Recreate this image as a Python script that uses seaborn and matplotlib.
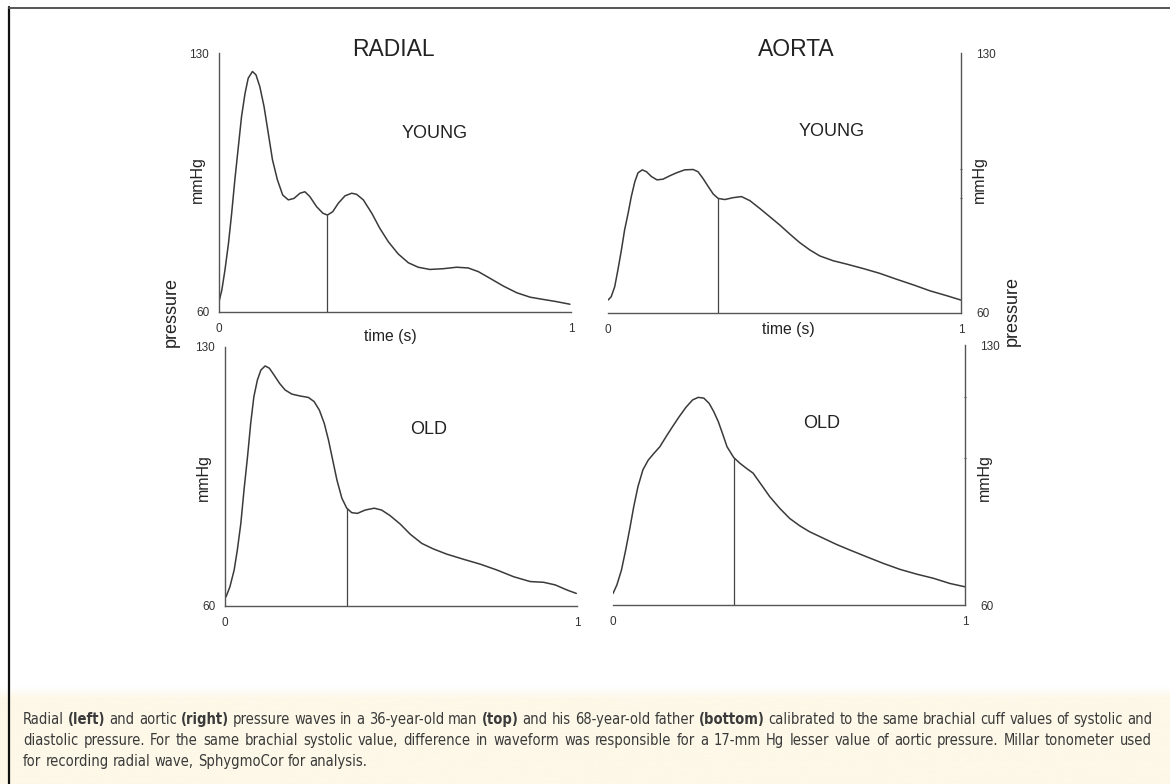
import matplotlib
matplotlib.use("Agg")
import matplotlib.pyplot as plt
import matplotlib.font_manager as fm
from matplotlib.lines import Line2D
import numpy as np
import pandas as pd
import seaborn as sns

# pressure waveforms (time in s, pressure in mmHg)
radial_young_t = [0.0, 0.008, 0.017, 0.027, 0.036, 0.045, 0.055, 0.064, 0.074, 0.083, 0.095, 0.105,
                  0.116, 0.128, 0.140, 0.152, 0.166, 0.181, 0.197, 0.213, 0.230, 0.244, 0.258, 0.277,
                  0.295, 0.308, 0.323, 0.339, 0.358, 0.377, 0.391, 0.410, 0.434, 0.457, 0.481, 0.509,
                  0.538, 0.566, 0.599, 0.637, 0.675, 0.708, 0.737, 0.770, 0.808, 0.846, 0.884, 0.921,
                  0.959, 0.997]
radial_young_p = [62.8, 65.9, 71.4, 78.6, 86.7, 95.7, 104.7, 112.8, 119.1, 123.2, 125.0, 124.1,
                  120.9, 115.5, 108.3, 101.1, 95.7, 91.6, 90.3, 90.7, 92.1, 92.5, 91.2, 88.5,
                  86.7, 86.2, 87.1, 89.4, 91.4, 92.1, 91.8, 90.3, 86.7, 82.6, 79.0, 75.7,
                  73.3, 72.1, 71.5, 71.7, 72.1, 71.9, 70.9, 69.1, 67.0, 65.2, 64.0, 63.4,
                  62.8, 62.1]

aorta_young_t = [0.0, 0.009, 0.019, 0.028, 0.038, 0.047, 0.057, 0.066, 0.076, 0.085, 0.097, 0.109,
                 0.123, 0.139, 0.156, 0.175, 0.194, 0.217, 0.241, 0.255, 0.269, 0.284, 0.298, 0.312,
                 0.331, 0.354, 0.378, 0.402, 0.430, 0.458, 0.487, 0.515, 0.543, 0.572, 0.600, 0.638,
                 0.676, 0.723, 0.770, 0.818, 0.865, 0.912, 0.959, 1.0]
aorta_young_p = [63.4, 64.3, 67.0, 71.5, 76.9, 82.3, 86.8, 91.3, 95.3, 97.7, 98.5, 98.0,
                 96.7, 95.8, 96.0, 96.9, 97.7, 98.5, 98.6, 98.0, 96.2, 94.0, 92.0, 90.8,
                 90.5, 91.0, 91.3, 90.2, 88.1, 85.9, 83.6, 81.2, 78.9, 76.9, 75.3, 74.0,
                 73.1, 71.9, 70.6, 69.0, 67.5, 65.9, 64.6, 63.4]

radial_old_t = [0.003, 0.014, 0.026, 0.035, 0.045, 0.054, 0.064, 0.073, 0.082, 0.092, 0.102, 0.114,
                0.126, 0.139, 0.155, 0.171, 0.190, 0.213, 0.237, 0.253, 0.268, 0.282, 0.294, 0.306,
                0.318, 0.332, 0.346, 0.360, 0.376, 0.398, 0.424, 0.445, 0.469, 0.498, 0.526, 0.559,
                0.592, 0.630, 0.678, 0.725, 0.773, 0.820, 0.867, 0.905, 0.938, 0.972, 0.998]
radial_old_p = [62.5, 65.2, 69.7, 75.1, 82.3, 91.3, 100.3, 109.3, 116.5, 121.0, 123.7, 124.8,
                124.2, 122.4, 120.1, 118.3, 117.2, 116.7, 116.3, 115.2, 112.9, 109.3, 104.8, 99.4,
                94.0, 89.1, 86.4, 85.2, 85.0, 85.9, 86.4, 85.9, 84.4, 82.1, 79.4, 76.9,
                75.4, 74.0, 72.6, 71.3, 69.7, 67.9, 66.6, 66.4, 65.7, 64.3, 63.4]

aorta_old_t = [0.0, 0.011, 0.024, 0.036, 0.047, 0.059, 0.071, 0.085, 0.100, 0.116, 0.133, 0.150,
               0.169, 0.188, 0.207, 0.226, 0.242, 0.258, 0.273, 0.286, 0.299, 0.311, 0.324, 0.343,
               0.360, 0.379, 0.398, 0.422, 0.445, 0.474, 0.502, 0.531, 0.559, 0.597, 0.635, 0.673,
               0.720, 0.768, 0.815, 0.863, 0.910, 0.957, 1.0]
aorta_old_p = [63.1, 65.4, 69.4, 74.8, 80.2, 86.5, 91.9, 96.4, 99.0, 100.8, 102.6, 105.2,
               108.0, 110.7, 113.2, 115.2, 115.9, 115.7, 114.3, 112.1, 109.4, 106.2, 102.6, 99.7,
               98.2, 96.8, 95.5, 92.3, 89.2, 86.0, 83.3, 81.3, 79.7, 78.0, 76.3, 74.8,
               73.0, 71.2, 69.6, 68.3, 67.2, 65.8, 64.9]

# dicrotic notch (vertical marker) per panel: radial young, aorta young, radial old, aorta old
notch_t = [0.308, 0.312, 0.346, 0.345]
notch_p = [86.2, 90.8, 86.4, 99.7]

col_titles = ["RADIAL", "AORTA"]
row_labels = ["YOUNG", "OLD"]
y_ticks = [60, 130]
x_ticks = [0, 1]

caption_lines = [
    [("Radial ", False), ("(left)", True), (" and aortic ", False), ("(right)", True),
     (" pressure waves in a 36-year-old man ", False), ("(top)", True),
     (" and his 68-year-old father ", False), ("(bottom)", True),
     (" calibrated to the same brachial cuff values of systolic and", False)],
    [("diastolic pressure. For the same brachial systolic value, difference in waveform was "
      "responsible for a 17-mm Hg lesser value of aortic pressure. Millar tonometer used", False)],
    [("for recording radial wave, SphygmoCor for analysis.", False)],
]

sns.set_style("white")
plt.rcParams["font.family"] = ["Liberation Sans", "DejaVu Sans"]

W, H = 1170, 784
fig = plt.figure(figsize=(W / 100, H / 100), dpi=100)


def fx(x):
    return x / W


def fy(y):
    return 1 - y / H


# cream caption band with soft fade at the top
band = fig.add_axes([0, 0, 1, fy(686)], zorder=-5)
grad = np.ones((100, 1, 3))
cream = np.array([253, 248, 232]) / 255
fade = np.clip(np.linspace(0, 1, 100) / 0.12, 0, 1)[:, None]
grad[:, 0, :] = (1 - fade) * 1.0 + fade * cream
band.imshow(grad, aspect="auto", extent=[0, 1, 1, 0])
band.set_axis_off()

# outer frame lines
fig.add_artist(Line2D([fx(9), fx(9)], [0, fy(7)], color="#111111", lw=1.6))
fig.add_artist(Line2D([fx(9), 1], [fy(8), fy(8)], color="#555555", lw=1.4))

# axes boxes in pixels: left, top, right, bottom
boxes = [(219, 53, 571, 312), (608, 53, 961, 312.7),
         (225, 346.7, 577, 606), (613, 345, 965, 605)]
series = [(radial_young_t, radial_young_p), (aorta_young_t, aorta_young_p),
          (radial_old_t, radial_old_p), (aorta_old_t, aorta_old_p)]

line_col = "#3a3a3a"
for i, ((l, t, r, b), (ts, ps)) in enumerate(zip(boxes, series)):
    ax = fig.add_axes([fx(l), fy(b), (r - l) / W, (b - t) / H])
    ax.set_facecolor("none")
    df = pd.DataFrame({"t": ts, "p": ps})
    sns.lineplot(data=df, x="t", y="p", ax=ax, color=line_col, linewidth=1.1,
                 estimator=None, sort=False)
    ax.plot([notch_t[i], notch_t[i]], [60, notch_p[i]], color="#444444", lw=0.9)
    ax.set_xlim(0, 1)
    ax.set_ylim(60, 130)
    ax.set_xlabel("")
    ax.set_ylabel("")
    ax.set_xticks(x_ticks)
    ax.set_xticklabels([str(v) for v in x_ticks])
    ax.set_yticks(y_ticks)
    ax.set_yticklabels([str(v) for v in y_ticks])
    # little marks at the systolic peak and at the notch
    t_peak = ts[int(np.argmax(ps))]
    ax.set_xticks([t_peak, notch_t[i]], minor=True)
    right = i % 2 == 1
    for s in ax.spines.values():
        s.set_visible(False)
    ax.spines["bottom"].set_visible(True)
    side = "right" if right else "left"
    ax.spines[side].set_visible(True)
    for s in ("bottom", side):
        ax.spines[s].set_color("#555555")
        ax.spines[s].set_linewidth(1.0)
    if right:
        ax.yaxis.tick_right()
        ax.set_yticks([max(ps), notch_p[i]], minor=True)
    ax.tick_params(axis="both", which="major", length=0, labelsize=8.5, colors="#333333")
    ax.tick_params(axis="x", which="major", pad=8)
    ax.tick_params(axis="y", which="major", pad=11 if right else 7)
    ax.tick_params(axis="both", which="minor", length=2, width=0.8, direction="inout",
                   color="#555555")

# text labels
txt = dict(color="#222222", ha="center", va="center")
fig.text(fx(393), fy(50), col_titles[0], fontsize=16.5, **txt)
fig.text(fx(796), fy(49), col_titles[1], fontsize=16.5, **txt)
fig.text(fx(435), fy(133), row_labels[0], fontsize=13, **txt)
fig.text(fx(832), fy(132), row_labels[0], fontsize=13, **txt)
fig.text(fx(429), fy(430), row_labels[1], fontsize=13, **txt)
fig.text(fx(822), fy(423), row_labels[1], fontsize=13, **txt)
fig.text(fx(390), fy(336), "time (s)", fontsize=11.3, **txt)
fig.text(fx(788), fy(329), "time (s)", fontsize=11.3, **txt)
for x, y in [(197, 180), (979, 180), (203, 478), (984, 478)]:
    fig.text(fx(x), fy(y), "mmHg", fontsize=11.5, rotation=90, **txt)
fig.text(fx(171), fy(312), "pressure", fontsize=13, rotation=90, **txt)
fig.text(fx(1012), fy(311), "pressure", fontsize=13, rotation=90, **txt)


# caption font: a narrow sans if one is installed, otherwise Liberation Sans
def pick_caption_font(bold):
    for f in fm.fontManager.ttflist:
        narrow = ("Narrow" in f.name or "Condensed" in f.name
                  or f.stretch in ("condensed", "semi-condensed"))
        if not narrow or f.style != "normal" or "Mono" in f.name or "Serif" in f.name:
            continue
        w = f.weight if isinstance(f.weight, int) else fm.weight_dict.get(f.weight, 400)
        if (w >= 600) == bold:
            return fm.FontProperties(fname=f.fname)
    return fm.FontProperties(family="Liberation Sans", weight="bold" if bold else "normal")


cap_props = {False: pick_caption_font(False), True: pick_caption_font(True)}
renderer = fig.canvas.get_renderer()
x_left, x_right = 23, 1152
line_base = [724, 745, 766]


def words_of(line):
    out = []
    for seg, bold in line:
        for w in seg.split():
            out.append((w, bold))
    return out


def measure(words, size):
    arts = []
    for w, bold in words:
        fp = cap_props[bold].copy()
        fp.set_size(size)
        a = fig.text(0, 0, w, fontproperties=fp, color="#3a3a3a", va="baseline", ha="left")
        arts.append(a)
    widths = [a.get_window_extent(renderer).width for a in arts]
    fp = cap_props[False].copy()
    fp.set_size(size)
    sp = fig.text(0, 0, "a a", fontproperties=fp)
    sp2 = fig.text(0, 0, "aa", fontproperties=fp)
    space = sp.get_window_extent(renderer).width - sp2.get_window_extent(renderer).width
    sp.remove()
    sp2.remove()
    return arts, widths, space


# size the caption so its first line fills the width with normal spacing
cap_size = 11
first = words_of(caption_lines[0])
arts, widths, space = measure(first, cap_size)
natural = sum(widths) + space * (len(widths) - 1)
for a in arts:
    a.remove()
cap_size = min(12.2, cap_size * (x_right - x_left) / natural * 0.995)

for k, line in enumerate(caption_lines):
    words = words_of(line)
    arts, widths, space = measure(words, cap_size)
    if k < 2:
        gap = (x_right - x_left - sum(widths)) / (len(widths) - 1)
    else:
        gap = space
    x = x_left
    for a, w in zip(arts, widths):
        a.set_position((fx(x), fy(line_base[k])))
        x += w + gap

fig.savefig("out.png", dpi=100)
